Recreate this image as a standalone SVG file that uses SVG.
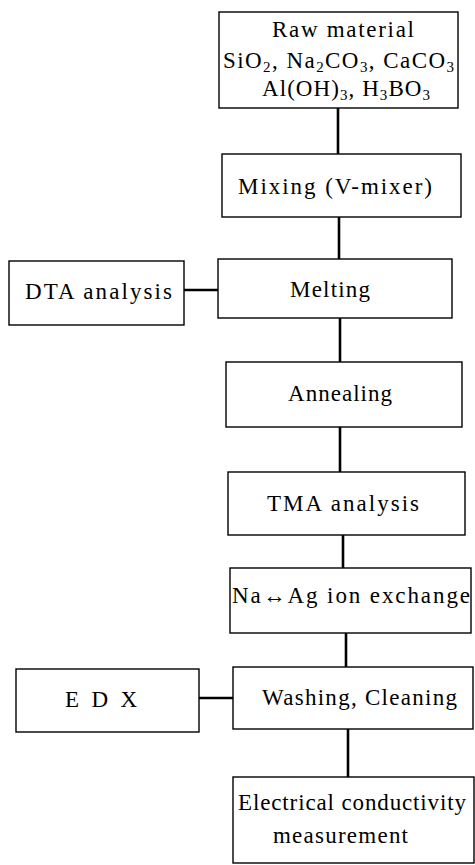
<svg xmlns="http://www.w3.org/2000/svg" width="475" height="865" viewBox="0 0 475 865">
<style>
.box{fill:#fff;stroke:#000;stroke-width:1.4}
.con{stroke:#000;stroke-width:2.6;fill:none}
text{font-family:"Liberation Serif","Times New Roman",serif;font-size:23px;fill:#000}
.sub{font-size:15px}
</style>
<rect width="475" height="865" fill="#fff"/>
<g id="connectors">
<line class="con" x1="338" y1="108" x2="338" y2="154"/>
<line class="con" x1="339" y1="217" x2="339" y2="259"/>
<line class="con" x1="340" y1="318" x2="340" y2="362"/>
<line class="con" x1="340" y1="427" x2="340" y2="472"/>
<line class="con" x1="343" y1="535" x2="343" y2="568"/>
<line class="con" x1="346" y1="633" x2="346" y2="667"/>
<line class="con" x1="348" y1="729" x2="348" y2="777"/>
<line class="con" x1="184" y1="290" x2="218" y2="290"/>
<line class="con" x1="199" y1="698" x2="233" y2="698"/>
</g>
<g id="raw">
<rect class="box" x="219" y="12" width="239" height="96"/>
<text x="272" y="37" textLength="142">Raw material</text>
<text x="223" y="68" textLength="231">SiO<tspan class="sub" dy="4">2</tspan><tspan dy="-4">, Na</tspan><tspan class="sub" dy="4">2</tspan><tspan dy="-4">CO</tspan><tspan class="sub" dy="4">3</tspan><tspan dy="-4">, CaCO</tspan><tspan class="sub" dy="4">3</tspan></text>
<text x="262" y="96" textLength="168">Al(OH)<tspan class="sub" dy="4">3</tspan><tspan dy="-4">, H</tspan><tspan class="sub" dy="4">3</tspan><tspan dy="-4">BO</tspan><tspan class="sub" dy="4">3</tspan></text>
</g>
<g id="mixing">
<rect class="box" x="222" y="154" width="239" height="63"/>
<text x="238" y="194" textLength="194">Mixing (V-mixer)</text>
</g>
<g id="melting">
<rect class="box" x="218" y="259" width="234" height="59"/>
<text x="290" y="297" textLength="80">Melting</text>
</g>
<g id="dta">
<rect class="box" x="9" y="261" width="175" height="64"/>
<text x="25" y="299" textLength="147">DTA analysis</text>
</g>
<g id="annealing">
<rect class="box" x="226" y="362" width="236" height="65"/>
<text x="288" y="401" textLength="104">Annealing</text>
</g>
<g id="tma">
<rect class="box" x="228" y="472" width="237" height="63"/>
<text x="267" y="511" textLength="152">TMA analysis</text>
</g>
<g id="ionexchange">
<rect class="box" x="230" y="568" width="241" height="65"/>
<text x="232" y="603" textLength="238">Na↔Ag ion exchange</text>
</g>
<g id="washing">
<rect class="box" x="233" y="667" width="240" height="62"/>
<text x="262" y="705" textLength="195">Washing, Cleaning</text>
</g>
<g id="edx">
<rect class="box" x="16" y="669" width="183" height="63"/>
<text x="65" y="707" textLength="72">E D X</text>
</g>
<g id="conductivity">
<rect class="box" x="233" y="777" width="241" height="86"/>
<text x="238" y="810" textLength="228">Electrical conductivity</text>
<text x="273" y="843" textLength="135">measurement</text>
</g>
</svg>
